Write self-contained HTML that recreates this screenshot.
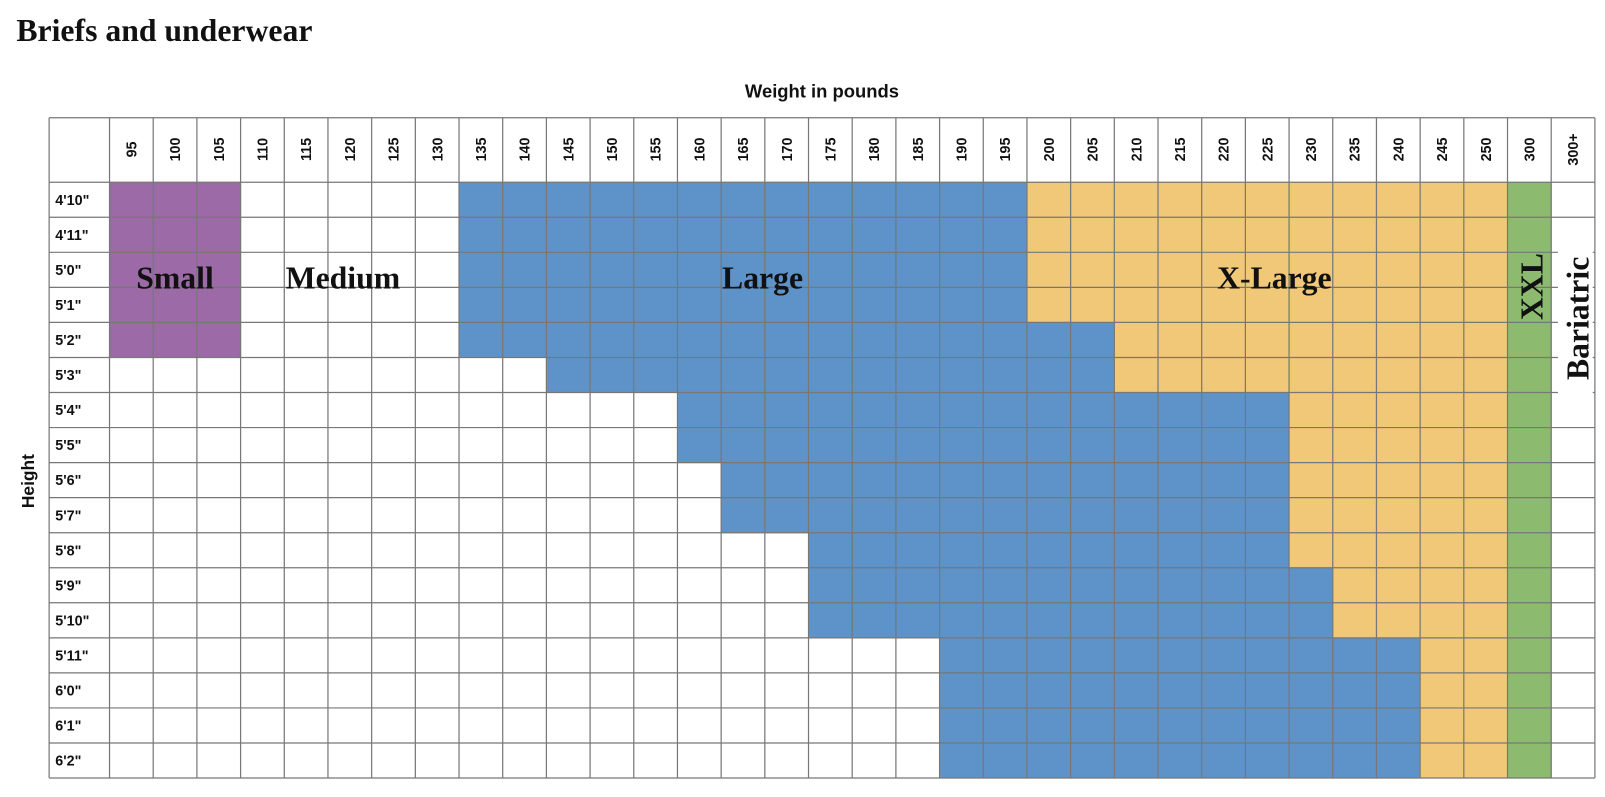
<!DOCTYPE html>
<html><head><meta charset="utf-8"><style>
body{margin:0;background:#fff;width:1605px;height:792px;overflow:hidden}
</style></head><body>
<svg width="1605" height="792" viewBox="0 0 1568 773.7" xmlns="http://www.w3.org/2000/svg" id="s">
<text x="16" y="40" font-family="Liberation Serif, serif" font-weight="bold" font-size="31" fill="#111">Briefs and underwear</text>
<text x="803" y="95" text-anchor="middle" font-family="Liberation Sans, sans-serif" font-weight="bold" font-size="18" fill="#111">Weight in pounds</text>
<text transform="translate(33,470) rotate(-90)" text-anchor="middle" font-family="Liberation Sans, sans-serif" font-weight="bold" font-size="17" fill="#111">Height</text>
<g id="g"></g>
</svg>
<script>
var g=document.getElementById('g'),ns='http://www.w3.org/2000/svg';
function el(t,a,txt){var e=document.createElementNS(ns,t);for(var k in a)e.setAttribute(k,a[k]);if(txt!==undefined)e.textContent=txt;g.appendChild(e);return e;}
var X0=107,CW=42.68,Y0=178,RH=34.24,L=48,T=115;
var w=[95,100,105,110,115,120,125,130,135,140,145,150,155,160,165,170,175,180,185,190,195,200,205,210,215,220,225,230,235,240,245,250,300,"300+"];
var h=["4'10\"","4'11\"","5'0\"","5'1\"","5'2\"","5'3\"","5'4\"","5'5\"","5'6\"","5'7\"","5'8\"","5'9\"","5'10\"","5'11\"","6'0\"","6'1\"","6'2\""];
var rows=[[8,21],[8,21],[8,21],[8,21],[8,23],[10,23],[13,27],[13,27],[14,27],[14,27],[16,27],[16,28],[16,28],[19,30],[19,30],[19,30],[19,30]];
var P='#9c6aa6',B='#5e93c9',Yc='#f0c878',G='#8cba6e';
for(var r=0;r<17;r++){for(var c=0;c<34;c++){var col=null;
 if(r<5&&c<3)col=P;else if(c==32)col=G;else if(c<32&&c>=rows[r][1])col=Yc;else if(c<32&&c>=rows[r][0])col=B;
 if(col)el('rect',{x:X0+c*CW,y:Y0+r*RH,width:CW+0.5,height:RH+0.5,fill:col});}}
var R=X0+34*CW,Bt=Y0+17*RH;
for(var c=0;c<=34;c++){var x=X0+c*CW;el('line',{x1:x,y1:T,x2:x,y2:Bt,stroke:'#777','stroke-width':1.2});}
el('line',{x1:L,y1:T,x2:L,y2:Bt,stroke:'#777','stroke-width':1.2});
el('line',{x1:L,y1:T,x2:R,y2:T,stroke:'#777','stroke-width':1.2});
for(var r=0;r<=17;r++){var y=Y0+r*RH;el('line',{x1:L,y1:y,x2:R,y2:y,stroke:'#777','stroke-width':1.2});}
for(var c=0;c<34;c++){var x=X0+c*CW+CW/2+5;el('text',{transform:'translate('+x+',146) rotate(-90)','text-anchor':'middle','font-family':'Liberation Sans, sans-serif','font-weight':'bold','font-size':14,fill:'#111'},String(w[c]));}
for(var r=0;r<17;r++){el('text',{x:54,y:Y0+r*RH+RH/2+5,'font-family':'Liberation Sans, sans-serif','font-weight':'bold','font-size':14,fill:'#111'},h[r]);}
el('rect',{x:1522,y:236,width:34,height:152,fill:'#fff'});
var sf={'font-family':'Liberation Serif, serif','font-weight':'bold','font-size':31,fill:'#111','text-anchor':'middle'};
function t(x,y,s,rot){var a=Object.assign({},sf);if(rot){a.transform='translate('+x+','+y+') rotate(-90)';}else{a.x=x;a.y=y;}el('text',a,s);}
t(171,282,'Small');t(335,282,'Medium');t(745,282,'Large');t(1245,282,'X-Large');
t(1507,280,'XXL',1);t(1552,311,'Bariatric',1);
</script>
</body></html>
